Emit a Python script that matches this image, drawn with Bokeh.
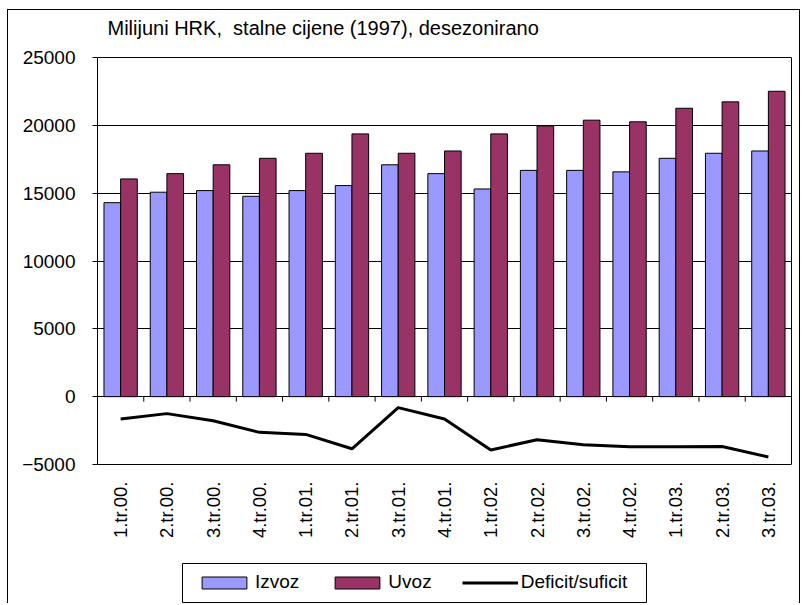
import math
from bokeh.plotting import figure
from bokeh.models import (ColumnDataSource, Range1d, FixedTicker, LinearAxis,
                          Legend, LegendItem)
from bokeh.core.properties import value
from bokeh.transform import dodge
from bokeh.embed import file_html
from bokeh.resources import INLINE

# ---- data ----
categories = ["1.tr.00.", "2.tr.00.", "3.tr.00.", "4.tr.00.",
              "1.tr.01.", "2.tr.01.", "3.tr.01.", "4.tr.01.",
              "1.tr.02.", "2.tr.02.", "3.tr.02.", "4.tr.02.",
              "1.tr.03.", "2.tr.03.", "3.tr.03."]
izvoz = [14300, 15070, 15190, 14770, 15190, 15560, 17090, 16440,
         15310, 16680, 16680, 16570, 17570, 17940, 18110]
uvoz = [16050, 16440, 17090, 17570, 17940, 19370, 17940, 18110,
        19370, 19960, 20380, 20260, 21260, 21730, 22510]
deficit = [-1650, -1250, -1770, -2630, -2780, -3840, -810, -1650,
           -3930, -3170, -3540, -3690, -3690, -3670, -4450]
y_ticks = [-5000, 0, 5000, 10000, 15000, 20000, 25000]
title_text = "Milijuni HRK,\u00a0 stalne cijene (1997), desezonirano"

FONT = "Liberation Sans"
Y_MIN, Y_MAX = -5000, 25000
N = len(categories)

# ---- layout (pixels, canvas starts at page (8, 10)) ----
FIG_W, FIG_H = 793, 594
B_LEFT, B_RIGHT = 89, 10
PLOT_TOP, PLOT_BOTTOM = 47, 454          # plot-area edges inside the canvas
FRAME_W = FIG_W - B_LEFT - B_RIGHT
DPP = (Y_MAX - Y_MIN) / (PLOT_BOTTOM - PLOT_TOP)   # data units per pixel (y)
XPP = N / FRAME_W                                  # data units per pixel (x)
Y_TOP = Y_MAX + PLOT_TOP * DPP
Y_START = Y_MIN - (FIG_H - PLOT_BOTTOM) * DPP

def px_to_y(py):
    return Y_TOP - py * DPP

def px_to_x(px):
    return (px - B_LEFT) * XPP

centers = [i + 0.5 for i in range(N)]
src = ColumnDataSource(dict(x=centers, cat=categories, izvoz=izvoz, uvoz=uvoz, deficit=deficit))

p = figure(width=FIG_W, height=FIG_H, output_backend="svg", toolbar_location=None,
           x_range=Range1d(0, N), y_range=Range1d(Y_START, Y_TOP),
           x_axis_location=None,
           min_border_left=B_LEFT, min_border_right=B_RIGHT, min_border_top=0,
           min_border_bottom=0, title=None,
           styles={"margin-left": "7px", "margin-top": "9px",
                   "border-left": "1px solid black", "border-top": "1px solid black",
                   "border-right": "1px solid black"})
p.background_fill_color = "white"
p.border_fill_color = "white"
p.outline_line_color = None

# grid
p.xgrid.grid_line_color = None
p.ygrid.ticker = FixedTicker(ticks=y_ticks)
p.ygrid.grid_line_color = "black"
p.ygrid.grid_line_width = 1

# bars
r_iz = p.vbar(x=dodge("x", -0.18), top="izvoz", bottom=0, width=0.36,
              source=src, fill_color="#9999FF", line_color="black", line_width=1)
r_uv = p.vbar(x=dodge("x", 0.18), top="uvoz", bottom=0, width=0.36,
              source=src, fill_color="#993366", line_color="black", line_width=1)

# zero-line ticks between categories
tick_len = 5 * DPP
bx = [float(i) for i in range(1, N)]
p.segment(x0=bx, x1=bx, y0=[0] * len(bx), y1=[-tick_len] * len(bx),
          line_color="black", line_width=1)

# deficit line
r_def = p.line(x="x", y="deficit", source=src, line_color="black", line_width=3)

# category labels (rotated, below the plot area)
p.text(x="x", y=Y_MIN - 17 * DPP, text="cat", source=src, angle=math.pi / 2,
       text_align="right", text_baseline="middle", text_font=value(FONT),
       text_font_size="18.5px", text_color="black")

# title
p.text(x=[px_to_x(B_LEFT + 10)], y=[px_to_y(PLOT_TOP - 30)], text=[title_text],
       text_align="left", text_baseline="alphabetic", text_font=value(FONT),
       text_font_size="20px", text_color="black")

# left axis
ya = p.yaxis[0]
ya.bounds = (Y_MIN, Y_MAX)
ya.ticker = FixedTicker(ticks=y_ticks)
ya.major_label_text_font = FONT
ya.major_label_text_font_size = "19px"
ya.major_label_text_color = "black"
ya.major_tick_out = 5
ya.major_tick_in = 0
ya.minor_tick_line_color = None
ya.major_label_standoff = 17
ya.axis_line_color = "black"

# right edge of the plot area
ra = LinearAxis(bounds=(Y_MIN, Y_MAX), ticker=FixedTicker(ticks=[]),
                major_tick_line_color=None, minor_tick_line_color=None,
                axis_line_color="black", major_label_text_font_size="0px")
p.add_layout(ra, "right")

# legend frame
p.quad(left=[px_to_x(174)], right=[px_to_x(638)], top=[px_to_y(553)], bottom=[px_to_y(592)],
       fill_color="white", line_color="black", line_width=1)

# legend
legend = Legend(items=[LegendItem(label="Izvoz", renderers=[r_iz]),
                       LegendItem(label="Uvoz", renderers=[r_uv]),
                       LegendItem(label="Deficit/suficit", renderers=[r_def])],
                orientation="horizontal", location=(99, 11))
legend.glyph_width = 56
legend.glyph_height = 15
legend.label_standoff = 3
legend.spacing = 30
legend.padding = 0
legend.margin = 0
legend.label_text_font = FONT
legend.label_text_font_size = "19px"
legend.label_text_color = "black"
legend.label_height = 22
legend.border_line_color = None
legend.background_fill_alpha = 0
p.add_layout(legend, "center")

open("out.html", "w").write(file_html(p, INLINE))
